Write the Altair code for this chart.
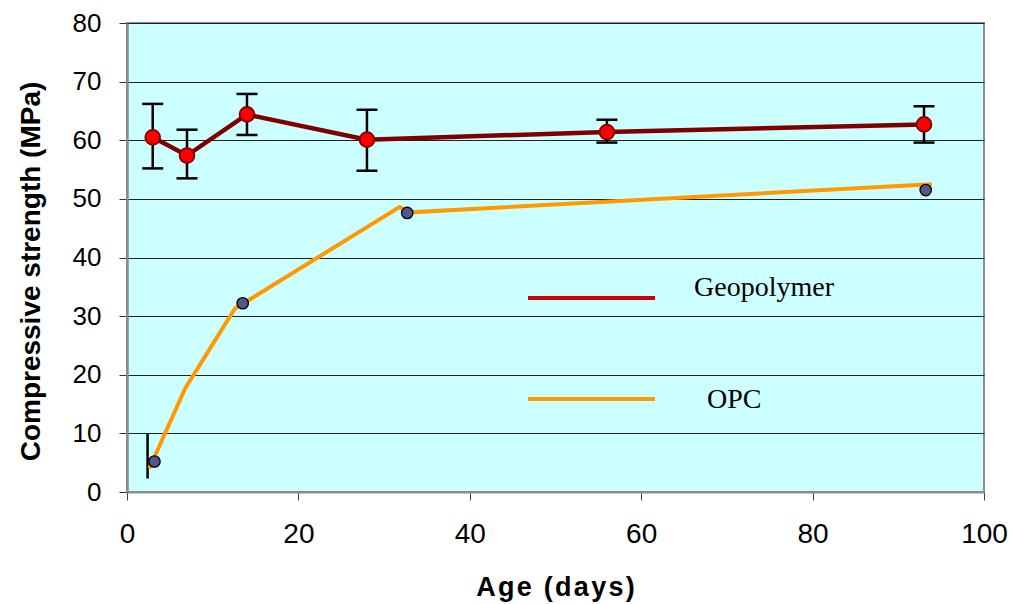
import altair as alt
import pandas as pd

# Geopolymer data (mean and error bar limits)
geo_age = [3, 7, 14, 28, 56, 93]
geo_strength = [60.5, 57.4, 64.4, 60.1, 61.4, 62.7]
geo_low = [55.2, 53.5, 60.9, 54.8, 59.6, 59.6]
geo_high = [66.2, 61.8, 67.9, 65.2, 63.5, 65.8]

# OPC measured points
opc_age = [3.2, 13.5, 32.7, 93.2]
opc_strength = [5.2, 32.2, 47.6, 51.5]

# OPC curve (drawn line)
opc_curve_age = [2.6, 6.8, 12.6, 31.8, 33.0, 93.9]
opc_curve_strength = [4.0, 17.7, 31.3, 48.6, 47.7, 52.5]

# OPC error bar
opc_err_age = [2.4]
opc_err_low = [2.3]
opc_err_high = [10.0]

legend_labels = ["Geopolymer", "OPC"]

geo = pd.DataFrame({"age": geo_age, "strength": geo_strength, "lo": geo_low, "hi": geo_high})
opc = pd.DataFrame({"age": opc_age, "strength": opc_strength})
opc_curve = pd.DataFrame({"age": opc_curve_age, "strength": opc_curve_strength,
                          "order": list(range(len(opc_curve_age)))})
opc_err = pd.DataFrame({"age": opc_err_age, "lo": opc_err_low, "hi": opc_err_high})

SANS = "Liberation Sans"
SERIF = "Liberation Serif"

xscale = alt.Scale(domain=[0, 100], nice=False, zero=True)
yscale = alt.Scale(domain=[0, 80], nice=False)

xaxis = alt.Axis(
    title="A\u200ag\u200ae\u200a \u200a(\u200ad\u200aa\u200ay\u200as\u200a)",
    values=[0, 20, 40, 60, 80, 100],
    grid=False,
    labelFont=SANS, labelFontSize=28, labelColor="#000000",
    labelBaseline="alphabetic", labelPadding=42, labelFlush=False,
    labelOverlap=False,
    tickSize=8, tickColor="#444444", tickWidth=1,
    domainColor="#8c8c8c", domainWidth=2,
    titleFont=SANS, titleFontSize=27, titleFontWeight="bold", titleColor="#000000",
    titleX=428, titleY=103, titleBaseline="alphabetic", titleAlign="center",
)
yaxis = alt.Axis(
    title="Compressive strength (MPa)",
    values=[0, 10, 20, 30, 40, 50, 60, 70, 80],
    grid=True, gridColor="#222222", gridWidth=1,
    labelFont=SANS, labelFontSize=26, labelColor="#000000",
    labelPadding=18, labelBaseline="middle", labelFlush=False,
    labelOverlap=False,
    tickSize=8, tickColor="#333333", tickWidth=1,
    domainColor="#8c8c8c", domainWidth=2.5,
    titleFont=SANS, titleFontSize=28, titleFontWeight="bold", titleColor="#000000",
    titleAngle=270, titleX=-96, titleY=248, titleAlign="center", titleBaseline="middle",
)


def X(field="age"):
    return alt.X(field, type="quantitative", scale=xscale, axis=xaxis)


def Y(field="strength"):
    return alt.Y(field, type="quantitative", scale=yscale, axis=yaxis)


geo_err = alt.Chart(geo).mark_rule(color="#000000", strokeWidth=2.5).encode(
    x=X(), y=Y("lo"), y2="hi")
geo_cap_lo = alt.Chart(geo).mark_rule(color="#000000", strokeWidth=2.5,
                                      xOffset=-10.5, x2Offset=10.5).encode(
    x=X(), x2="age", y=Y("lo"))
geo_cap_hi = alt.Chart(geo).mark_rule(color="#000000", strokeWidth=2.5,
                                      xOffset=-10.5, x2Offset=10.5).encode(
    x=X(), x2="age", y=Y("hi"))

opc_err_bar = alt.Chart(opc_err).mark_rule(color="#000000", strokeWidth=2.5).encode(
    x=X(), y=Y("lo"), y2="hi")

geo_line = alt.Chart(geo).mark_line(color="#800000", strokeWidth=4.5).encode(
    x=X(), y=Y())
opc_line = alt.Chart(opc_curve).mark_line(color="#ff9900", strokeWidth=4).encode(
    x=X(), y=Y(), order="order:Q")

geo_pts = alt.Chart(geo).mark_point(shape="circle", filled=True, fill="#ff0000",
                                    stroke="#8b0000", strokeWidth=2, size=215,
                                    opacity=1).encode(x=X(), y=Y())
opc_pts = alt.Chart(opc).mark_point(shape="circle", filled=True, fill="#55558c",
                                    stroke="#000000", strokeWidth=1.3, size=130,
                                    opacity=1).encode(x=X(), y=Y())

leg_geo_line = alt.Chart(pd.DataFrame({"k": [0]})).mark_rule(
    color="#cc0000", strokeWidth=4).encode(
    x=alt.value(401), x2=alt.value(528), y=alt.value(275))
leg_opc_line = alt.Chart(pd.DataFrame({"k": [0]})).mark_rule(
    color="#ff9900", strokeWidth=4).encode(
    x=alt.value(401), x2=alt.value(528), y=alt.value(376))

leg_geo_text = alt.Chart(pd.DataFrame({"label": [legend_labels[0]]})).mark_text(
    font=SERIF, fontSize=28, align="left", baseline="alphabetic", color="#000000").encode(
    x=alt.value(567), y=alt.value(273), text="label:N")
leg_opc_text = alt.Chart(pd.DataFrame({"label": [legend_labels[1]]})).mark_text(
    font=SERIF, fontSize=28, align="left", baseline="alphabetic", color="#000000").encode(
    x=alt.value(580), y=alt.value(385), text="label:N")

chart = alt.layer(
    geo_err, geo_cap_lo, geo_cap_hi, opc_err_bar,
    geo_line, opc_line, geo_pts, opc_pts,
    leg_geo_line, leg_opc_line, leg_geo_text, leg_opc_text,
).properties(
    width=857, height=469,
    autosize=alt.AutoSizeParams(type="none"),
    padding={"left": 127, "top": 23, "right": 29, "bottom": 112},
    background="#ffffff",
).configure_view(
    fill="#ccffff", stroke="#8c8c8c", strokeWidth=2,
)

chart.save("out.html", embed_options={"renderer": "svg", "actions": False})
